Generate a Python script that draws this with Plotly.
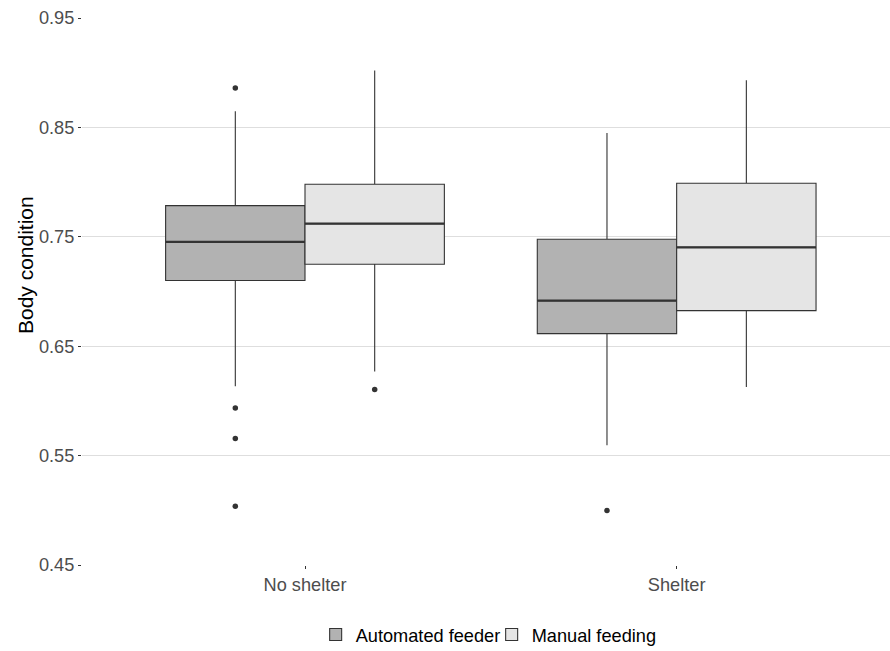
import plotly.graph_objects as go

# ---- data ----
categories = ["No shelter", "Shelter"]
groups = ["Automated feeder", "Manual feeding"]

auto_lower = [0.6134, 0.5595]
auto_q1 = [0.7100, 0.6615]
auto_median = [0.7453, 0.6917]
auto_q3 = [0.7785, 0.7477]
auto_upper = [0.8647, 0.8449]

manual_lower = [0.6268, 0.6128]
manual_q1 = [0.7249, 0.6825]
manual_median = [0.7620, 0.7404]
manual_q3 = [0.7980, 0.7989]
manual_upper = [0.9021, 0.8930]

auto_out_x = ["No shelter", "No shelter", "No shelter", "No shelter", "Shelter"]
auto_out_y = [0.8860, 0.5936, 0.5656, 0.5037, 0.4998]
manual_out_x = ["No shelter"]
manual_out_y = [0.6104]

y_ticks = [0.45, 0.55, 0.65, 0.75, 0.85, 0.95]

# ---- styles ----
fills = {"Automated feeder": "#B2B2B2", "Manual feeding": "#E5E5E5"}
line_col = "#333333"
font_family = "Liberation Sans, Arial, sans-serif"

fig = go.Figure()

series = {
    "Automated feeder": (auto_lower, auto_q1, auto_median, auto_q3, auto_upper, auto_out_x, auto_out_y, "A"),
    "Manual feeding": (manual_lower, manual_q1, manual_median, manual_q3, manual_upper, manual_out_x, manual_out_y, "M"),
}

for name in groups:
    lo, q1, med, q3, up, ox, oy, og = series[name]
    fig.add_trace(go.Box(
        name=name, x=categories, q1=q1, median=med, q3=q3,
        lowerfence=lo, upperfence=up,
        fillcolor=fills[name], line=dict(color=line_col, width=1.1),
        whiskerwidth=0, boxpoints=False, offsetgroup=og,
        hoverinfo="skip",
    ))

# thicker median lines (degenerate boxes at the median)
for name in groups:
    lo, q1, med, q3, up, ox, oy, og = series[name]
    fig.add_trace(go.Box(
        name=name + " median", x=categories, q1=med, median=med, q3=med,
        lowerfence=med, upperfence=med,
        fillcolor="rgba(0,0,0,0)", line=dict(color=line_col, width=2.3),
        whiskerwidth=0, boxpoints=False, offsetgroup=og, showlegend=False,
        hoverinfo="skip",
    ))

# outliers
for name in groups:
    lo, q1, med, q3, up, ox, oy, og = series[name]
    fig.add_trace(go.Scatter(
        x=ox, y=oy, mode="markers", offsetgroup=og, showlegend=False,
        marker=dict(color=line_col, size=5.5), hoverinfo="skip",
    ))

fig.update_layout(
    width=890, height=651,
    margin=dict(l=82, r=0, t=18, b=86),
    paper_bgcolor="white", plot_bgcolor="white",
    boxmode="group", boxgap=0.25, boxgroupgap=0,
    scattermode="group", scattergap=0.25,
    font=dict(family=font_family, size=18.2, color="#000000"),
    showlegend=True,
    legend=dict(orientation="h", x=0.507, xanchor="center",
                yref="container", y=0.025, yanchor="middle",
                font=dict(size=18.2, color="#000000"), itemwidth=30,
                entrywidth=131, entrywidthmode="pixels",
                bgcolor="rgba(0,0,0,0)"),
    annotations=[dict(
        text="Body condition", xref="paper", yref="paper", x=-0.0701, y=0.549,
        xanchor="center", yanchor="middle", textangle=-90, showarrow=False,
        font=dict(family=font_family, size=21, color="#000000"),
    )],
)

fig.update_xaxes(
    type="category", categoryorder="array", categoryarray=categories,
    range=[-0.6, 1.574], showgrid=False, zeroline=False, showline=False,
    ticks="outside", ticklen=3, tickcolor="#333333", tickwidth=1,
    tickfont=dict(size=18.2, color="#4D4D4D"),
)
fig.update_yaxes(
    range=[0.45, 0.95], tickvals=y_ticks, tickformat=".2f",
    showgrid=True, gridcolor="#DEDEDE", gridwidth=1, zeroline=False, showline=False,
    ticks="outside", ticklen=3, tickcolor="#333333", tickwidth=1,
    tickfont=dict(size=18.2, color="#4D4D4D"),
)

fig.write_html("out.html", config={"displayModeBar": False},
               post_script="document.body.style.margin='0';")
